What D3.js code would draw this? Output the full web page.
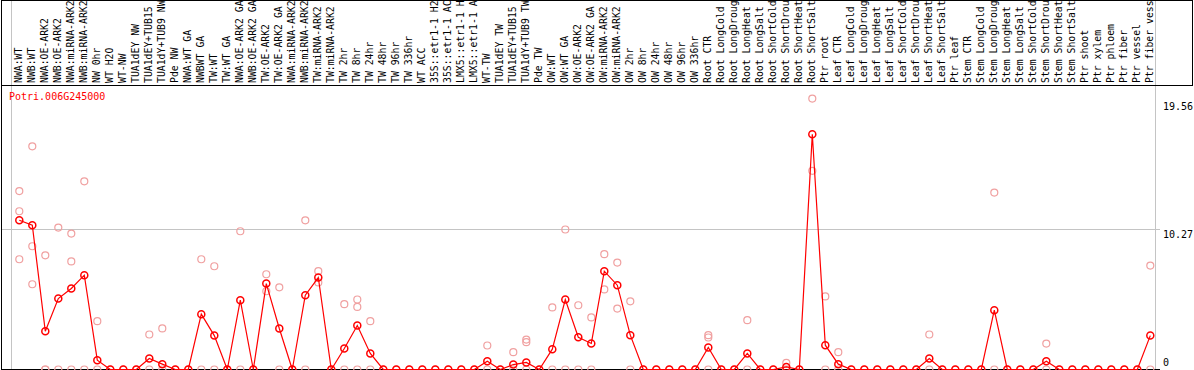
<!DOCTYPE html>
<html>
<head>
<meta charset="utf-8">
<script src="https://cdn.jsdelivr.net/npm/d3@7"></script>
<style>
body { margin: 0; background: #fff; }
svg text { font-family: "DejaVu Sans Mono", monospace; font-size: 10px; }
svg text.cat { font-size: 9.8px; }
</style>
</head>
<body>
<svg width="1194" height="370"></svg>
<script>
const geneName = 'Potri.006G245000';

const categories = [
  'NWA:WT', 'NWB:WT', 'NWA:OE-ARK2', 'NWB:OE-ARK2', 'NWA:miRNA-ARK2', 'NWB:miRNA-ARK2',
  'NW 0hr', 'WT H2O', 'WT-NW', 'TUA1dEY NW', 'TUA1dEY+TUB15', 'TUA1dY+TUB9 NW', 'Pde NW',
  'NWA:WT GA', 'NWBWT GA', 'TW:WT', 'TW:WT GA', 'NWA:OE-ARK2 GA', 'NWB:OE-ARK2 GA',
  'TW:OE-ARK2', 'TW:OE-ARK2 GA', 'NWA:miRNA-ARK2', 'NWB:miRNA-ARK2', 'TW:miRNA-ARK2',
  'TW:miRNA-ARK2', 'TW 2hr', 'TW 8hr', 'TW 24hr', 'TW 48hr', 'TW 96hr', 'TW 336hr',
  'WT ACC', '35S::etr1-1 H2', '35S::etr1-1 AC', 'LMX5::etr1-1 H', 'LMX5::etr1-1 A',
  'WT-TW', 'TUA1dEY TW', 'TUA1dEY+TUB15', 'TUA1dY+TUB9 TW', 'Pde TW',
  'OW:WT', 'OW:WT GA', 'OW:OE-ARK2', 'OW:OE-ARK2 GA', 'OW:miRNA-ARK2', 'OW:miRNA-ARK2',
  'OW 2hr', 'OW 8hr', 'OW 24hr', 'OW 48hr', 'OW 96hr', 'OW 336hr',
  'Root CTR', 'Root LongCold', 'Root LongDroug', 'Root LongHeat', 'Root LongSalt',
  'Root ShortCold', 'Root ShortDrou', 'Root ShortHeat', 'Root ShortSalt', 'Ptr root',
  'Leaf CTR', 'Leaf LongCold', 'Leaf LongDroug', 'Leaf LongHeat', 'Leaf LongSalt',
  'Leaf ShortCold', 'Leaf ShortDrou', 'Leaf ShortHeat', 'Leaf ShortSalt', 'Ptr leaf',
  'Stem CTR', 'Stem LongCold', 'Stem LongDroug', 'Stem LongHeat', 'Stem LongSalt',
  'Stem ShortCold', 'Stem ShortDrou', 'Stem ShortHeat', 'Stem ShortSalt', 'Ptr shoot',
  'Ptr xylem', 'Ptr phloem', 'Ptr fiber', 'Ptr vessel', 'Ptr fiber vess'
];

// how many categories sit between two grey separators
const groupSizes = [13, 28, 12, 10, 10, 11, 1, 1, 1, 1];

const meanValues = [
  10.87, 10.51, 2.79, 5.17, 5.9, 6.87, 0.68, 0, 0, 0, 0.8, 0.39, 0,
  0, 4.03, 2.47, 0, 5.05, 0, 6.26, 2.99, 0, 5.41, 6.7, 0, 1.53, 3.2, 1.17,
  0, 0, 0, 0, 0, 0, 0, 0, 0.6, 0, 0.36, 0.51, 0,
  1.48, 5.1, 2.35, 1.9, 7.16, 6.14, 2.5, 0, 0, 0, 0, 0,
  1.6, 0, 0, 1.17, 0, 0, 0.19, 0, 17.14, 1.77,
  0.39, 0, 0, 0, 0, 0, 0, 0.8, 0, 0,
  0, 0, 4.32, 0, 0, 0, 0.6, 0, 0, 0, 0,
  0, 0, 0, 2.47
];

const replicateValues = [
  [13.0, 11.53, 8.03], [16.26, 8.98, 6.21], [8.32, 0, 0], [10.34, 0], [9.9, 7.87, 0],
  [13.71, 0], [3.52, 0], [0], [0], [0], [2.55, 0], [2.99, 0], [0],
  [0], [8.03, 0], [7.52, 0], [0], [10.07, 0], [0], [6.94, 5.7], [5.99, 0], [0],
  [10.87, 0], [7.16, 6.34], [0], [4.76, 0], [5.1, 4.56, 0], [3.52, 0],
  [0], [0], [0], [0], [0], [0], [0], [0], [1.75, 0], [0], [1.26, 0], [2.18, 1.99, 0], [0],
  [4.52, 0], [10.2, 0], [4.68, 0], [3.79, 0], [8.4, 5.83], [7.79, 4.44], [4.97, 0],
  [0], [0], [0], [0], [0],
  [2.5, 2.33, 0], [0], [0], [3.59, 0], [0], [0], [0.48, 0], [0], [19.74, 14.47], [5.32, 0],
  [1.26, 0], [0], [0], [0], [0], [0], [0], [2.55, 0], [0], [0],
  [0], [0], [12.89, 0], [0], [0], [0], [1.89, 0], [0], [0], [0], [0],
  [0], [0], [0], [7.57, 0]
];

const yTicks = [0, 10.27, 19.56];

const svg = d3.select('svg');
const width = +svg.attr('width');
const height = +svg.attr('height');

const labelBottom = 85;

const x = d3.scaleBand()
  .domain(d3.range(categories.length))
  .range([11, 11 + 13 * categories.length]);
const plotRight = x.range()[1] + 5;
const px = i => x(i) + 8.3;

const y = d3.scaleLinear()
  .domain([0, 19.56])
  .range([369.5, 101]);

// grey separators between sample groups
const bounds = [0].concat(d3.cumsum(groupSizes));
svg.append('g').selectAll('line')
  .data(bounds)
  .enter()
  .append('line')
  .attr('x1', d => (d < categories.length ? x(d) : x.range()[1]) + 0.5)
  .attr('x2', d => (d < categories.length ? x(d) : x.range()[1]) + 0.5)
  .attr('y1', 0)
  .attr('y2', height)
  .attr('stroke', '#c4c4c4');

// middle grid line
svg.append('line')
  .attr('x1', 1).attr('x2', plotRight)
  .attr('y1', Math.round(y(10.27)) + 0.5).attr('y2', Math.round(y(10.27)) + 0.5)
  .attr('stroke', '#c4c4c4');

// label box and axes
svg.append('rect')
  .attr('x', 1.5).attr('y', 0.5)
  .attr('width', width - 3).attr('height', labelBottom)
  .attr('fill', 'none').attr('stroke', '#000');
svg.append('line')
  .attr('x1', 1.5).attr('x2', 1.5).attr('y1', 0).attr('y2', height)
  .attr('stroke', '#000');
svg.append('line')
  .attr('x1', 1).attr('x2', plotRight).attr('y1', 369.5).attr('y2', 369.5)
  .attr('stroke', '#000');

// category labels, written upwards
svg.append('g').selectAll('text')
  .data(categories)
  .enter()
  .append('text')
  .attr('class', 'cat')
  .attr('transform', (d, i) => `translate(${x(i) + 11},83) rotate(-90)`)
  .attr('fill', '#000')
  .text(d => d);

// y tick labels at the right
svg.append('g').selectAll('text')
  .data(yTicks)
  .enter()
  .append('text')
  .attr('x', 1163)
  .attr('y', d => Math.min(y(d) + 9, height - 4))
  .attr('fill', '#000')
  .text(d => d);

svg.append('text')
  .attr('x', 9)
  .attr('y', 100)
  .attr('fill', '#ff0000')
  .text(geneName);

// replicate points
const reps = [];
replicateValues.forEach((vals, i) => vals.forEach(v => reps.push({i, v})));
svg.append('g').selectAll('circle')
  .data(reps)
  .enter()
  .append('circle')
  .attr('cx', d => px(d.i))
  .attr('cy', d => y(d.v))
  .attr('r', 3.5)
  .attr('fill', 'none')
  .attr('stroke', '#f0a0a0')
  .attr('stroke-width', 1.2);

// mean line
const line = d3.line()
  .x((d, i) => px(i))
  .y(d => y(d));
svg.append('path')
  .datum(meanValues)
  .attr('d', line)
  .attr('fill', 'none')
  .attr('stroke', '#ff0000')
  .attr('stroke-width', 1.2);

svg.append('g').selectAll('circle')
  .data(meanValues)
  .enter()
  .append('circle')
  .attr('cx', (d, i) => px(i))
  .attr('cy', d => y(d))
  .attr('r', 3.5)
  .attr('fill', 'none')
  .attr('stroke', '#ff0000')
  .attr('stroke-width', 1.5);
</script>
</body>
</html>
